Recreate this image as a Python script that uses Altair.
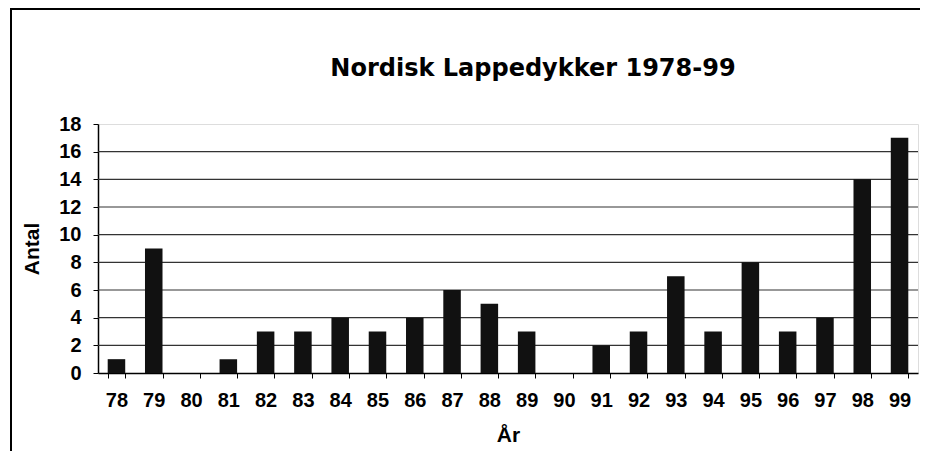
import altair as alt
import pandas as pd

years = ["78", "79", "80", "81", "82", "83", "84", "85", "86", "87", "88",
         "89", "90", "91", "92", "93", "94", "95", "96", "97", "98", "99"]
counts = [1, 9, 0, 1, 3, 3, 4, 3, 4, 6, 5, 3, 0, 2, 3, 7, 3, 8, 3, 4, 14, 17]
y_ticks = [0, 2, 4, 6, 8, 10, 12, 14, 16, 18]
grid_values = [2, 4, 6, 8, 10, 12, 14, 16]

df = pd.DataFrame({"year": years, "count": counts})
grid_df = pd.DataFrame({"g": grid_values})

FONT = "Liberation Sans"

x_enc = alt.X(
    "year:N", sort=years,
    scale=alt.Scale(paddingInner=0.53, paddingOuter=0.26),
    axis=alt.Axis(
        title="År", labelAngle=0, labelFont=FONT, labelFontSize=20,
        labelFontWeight="bold", labelColor="black", labelPadding=12,
        labelOverlap=False,
        titleFont=FONT, titleFontSize=21, titleFontWeight="bold",
        titleColor="black", titlePadding=14,
        domainColor="black", domainWidth=1.5, tickColor="black",
        tickSize=5, tickBand="extent", ticks=True, grid=False,
    ),
)

y_scale = alt.Scale(domain=[0, 18], nice=False)
y_axis = alt.Axis(
    title="Antal", values=y_ticks, labelFont=FONT, labelFontSize=20,
    labelFontWeight="bold", labelColor="black", labelPadding=12,
    labelOverlap=False, labelBound=False, labelFlush=False,
    titleFont=FONT, titleFontSize=21, titleFontWeight="bold",
    titleColor="black", titlePadding=16,
    domainColor="black", domainWidth=1.5, tickColor="black",
    tickSize=5, grid=False,
)

bars = alt.Chart(df).mark_bar(color="#111111").encode(
    x=x_enc,
    y=alt.Y("count:Q", scale=y_scale, axis=y_axis),
)

grid = alt.Chart(grid_df).mark_rule(color="#333333", strokeWidth=1.2).encode(
    y=alt.Y("g:Q", scale=y_scale, axis=y_axis)
)

frame = alt.Chart(grid_df).mark_rect(
    fill=None, stroke="black", strokeWidth=2
).encode(
    x=alt.value(-87), x2=alt.value(2000),
    y=alt.value(-115), y2=alt.value(1000),
)

chart = alt.layer(frame, grid, bars).properties(
    width=820,
    height=249,
    title=alt.TitleParams(
        "Nordisk Lappedykker 1978-99", font="DejaVu Sans", fontSize=24,
        fontWeight="bold", color="black", anchor="middle", dx=25, offset=-73,
    ),
    autosize=alt.AutoSizeParams(type="none"),
    padding={"left": 90, "top": 116, "right": 2, "bottom": 78},
).configure_view(stroke=None).configure(background="white")

chart.save("out.html", embed_options={"renderer": "svg", "actions": False})
